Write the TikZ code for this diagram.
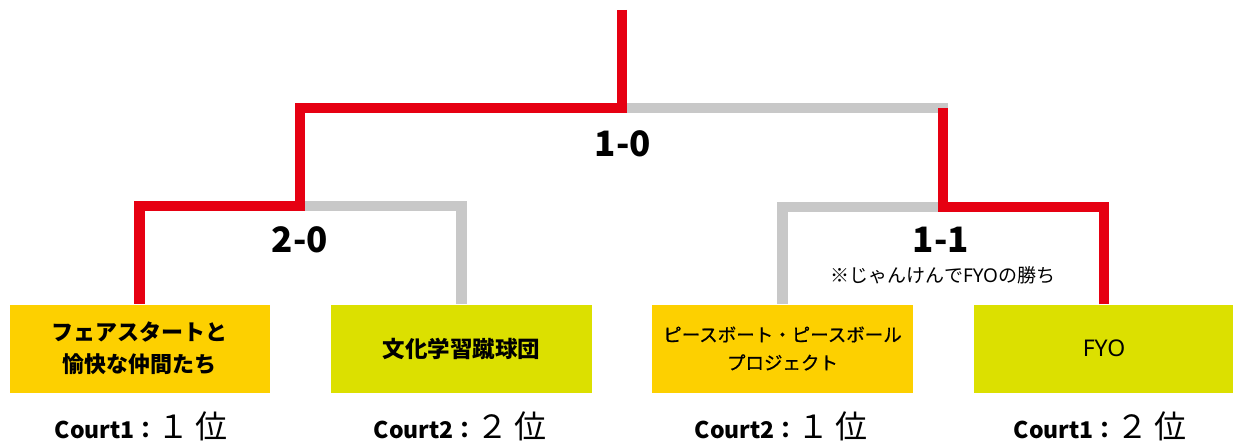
\documentclass[tikz,border=0pt]{standalone}
\usepackage{fontspec}
\setmainfont{Noto Sans CJK JP}
\newfontfamily\latinsans{Noto Sans}
\newfontfamily\jpsemi{Noto Sans CJK JP}[FakeBold=0.6]
\definecolor{bred}{HTML}{E60012}
\definecolor{bgray}{HTML}{C8C8C8}
\definecolor{borange}{HTML}{FDD000}
\definecolor{blime}{HTML}{DCE000}
\begin{document}
\begin{tikzpicture}[x=1pt,y=-1pt,
  redline/.style={draw=bred,line width=10.5pt,line join=miter},
  grayline/.style={draw=bgray,line width=10.5pt,line join=miter},
  team/.style={minimum width=260pt,minimum height=88pt,inner sep=0pt,align=center,text=black},
  score/.style={font=\fontsize{35}{35}\selectfont\bfseries,anchor=base},
  court/.style={anchor=base}]
\useasboundingbox (0,0) rectangle (1233,446);
% teams
\node[team,fill=borange,font=\fontsize{22}{32}\selectfont\bfseries] (b1) at (139.5,348.5) {フェアスタートと\\愉快な仲間たち};
\node[team,fill=blime,font=\fontsize{22.5}{32}\selectfont\bfseries,minimum width=261pt] (b2) at (461.5,348.5) {文化学習蹴球団};
\node[team,fill=borange,font=\jpsemi\fontsize{18.5}{28}\selectfont,minimum width=261pt] (b3) at (782.5,348.5) {ピースボート・ピースボール\\プロジェクト};
\node[team,fill=blime,font=\latinsans\fontsize{23}{28}\selectfont] (b4) at (1104,348.5) {FYO};
% junctions
\coordinate (root) at (622,10);
\coordinate (c0) at (622,108);
\coordinate (cL) at (300,108);
\coordinate (jL) at (300,206);
\coordinate (cR) at (943,108);
\coordinate (jR) at (943,207);
% losers' paths
\draw[grayline] (jL) -| (b2.north);
\draw[grayline] (jR) -| (b3.north);
\draw[grayline,shorten >=-5.25pt] (c0) -- (cR);
% winners' paths
\draw[redline] (root) -- (c0) -- (cL) -- (jL) -| (b1.north);
\draw[redline] (b4.north) |- (jR) -- (cR);
% scores
\node[score] (s0) at (623,157) {1-0};
\node[score] (s1) at (300,252) {2-0};
\node[score] (s2) at (941,252) {1-1};
\node[anchor=base,font=\fontsize{19}{19}\selectfont] (note) at (943,282) {※じゃんけんで{\latinsans FYO}の勝ち};
% court results
\node[court] (l1) at (141,438) {{\fontsize{23}{23}\selectfont\bfseries Court1：}{\fontsize{32}{32}\selectfont １\,位}};
\node[court] (l2) at (460,438) {{\fontsize{23}{23}\selectfont\bfseries Court2：}{\fontsize{32}{32}\selectfont ２\,位}};
\node[court] (l3) at (781,438) {{\fontsize{23}{23}\selectfont\bfseries Court2：}{\fontsize{32}{32}\selectfont １\,位}};
\node[court] (l4) at (1100,438) {{\fontsize{23}{23}\selectfont\bfseries Court1：}{\fontsize{32}{32}\selectfont ２\,位}};
\end{tikzpicture}
\end{document}
